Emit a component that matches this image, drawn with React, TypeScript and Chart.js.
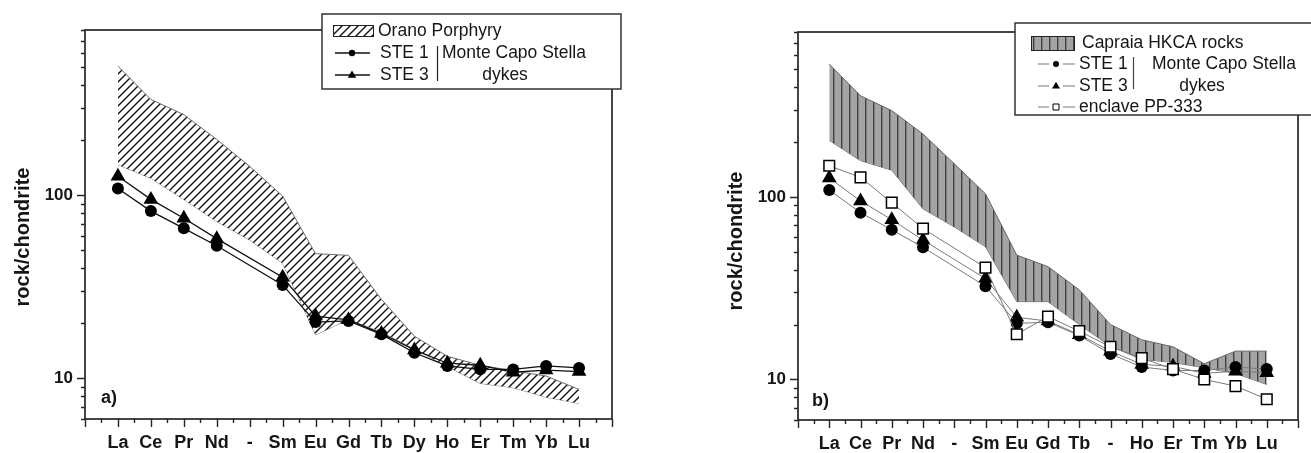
import React, { useEffect, useRef } from 'react';
import { Chart, registerables } from 'chart.js';

Chart.register(...registerables);

// ---------- data ----------
const labelsA = ['La', 'Ce', 'Pr', 'Nd', '-', 'Sm', 'Eu', 'Gd', 'Tb', 'Dy', 'Ho', 'Er', 'Tm', 'Yb', 'Lu'];
const labelsB = ['La', 'Ce', 'Pr', 'Nd', '-', 'Sm', 'Eu', 'Gd', 'Tb', '-', 'Ho', 'Er', 'Tm', 'Yb', 'Lu'];

const ste1 = [109, 82, 66, 53, null, 32.4, 20.3, 20.6, 17.4, 13.8, 11.7, 11.2, 11.2, 11.7, 11.4];
const ste3 = [127, 95, 75, 58, null, 35.7, 21.9, 20.9, 17.6, 14.3, 12.1, 11.8, 10.8, 11.1, 10.9];
const enclavePP333 = [148, 128, 93, 67, null, 41, 17.7, 22.1, 18.4, 15.1, 13.1, 11.4, 10.0, 9.2, 7.8];

const oranoUpper = [508, 334, 276, 202, 144, 99, 48, 47, 27, 17, 13.2, 11.8, 11.0, 10.3, 8.7];
const oranoLower = [147, 124, 95, 72, 57, 42.6, 17.3, 21, 18, 14.5, 11.6, 9.4, 8.9, 7.9, 7.3];

const capraiaUpper = [534, 358, 297, 221, 152, 104, 48, 41.5, 31, 20, 16.5, 15.1, 12.2, 14.3, 14.3];
const capraiaLower = [204, 158, 140, 86, 68.5, 53.4, 26.7, 26.7, 20, 15.2, 12.9, 12.4, 11.6, 10.8, 9.4];

const xTickValues = [-1, 0, 1, 2, 3, 4, 5, 6, 7, 8, 9, 10, 11, 12, 13, 14, 15];
const yTickValues = [6, 7, 8, 9, 10, 20, 30, 40, 50, 60, 70, 80, 90, 100, 200, 300, 400, 500, 600, 700, 800];
const yLabelTicks = [10, 100];

const yTitle = 'rock/chondrite';
const legendA = { band: 'Orano Porphyry', s1: 'STE 1', s3: 'STE 3', group1: 'Monte Capo Stella', group2: 'dykes' };
const legendB = { band: 'Capraia HKCA rocks', s1: 'STE 1', s3: 'STE 3', group1: 'Monte Capo Stella', group2: 'dykes', enc: 'enclave PP-333' };

// ---------- styles ----------
const FONT = '"Liberation Sans", Arial, Helvetica, sans-serif';
const AXIS = '#262626';
const TEXT = '#161616';

function diagPattern(ctx: CanvasRenderingContext2D) {
  const c = document.createElement('canvas');
  c.width = 8; c.height = 8;
  const g = c.getContext('2d')!;
  g.fillStyle = '#ffffff';
  g.fillRect(0, 0, 8, 8);
  g.strokeStyle = '#161616';
  g.lineWidth = 1.4;
  g.beginPath(); g.moveTo(-2, 10); g.lineTo(10, -2); g.stroke();
  g.beginPath(); g.moveTo(-2, 2); g.lineTo(2, -2); g.stroke();
  g.beginPath(); g.moveTo(6, 10); g.lineTo(10, 6); g.stroke();
  return ctx.createPattern(c, 'repeat')!;
}

function vertPattern(ctx: CanvasRenderingContext2D) {
  const c = document.createElement('canvas');
  c.width = 8; c.height = 8;
  const g = c.getContext('2d')!;
  g.fillStyle = '#a4a4a4';
  g.fillRect(0, 0, 8, 8);
  g.fillStyle = '#424242';
  g.fillRect(0, 0, 1.4, 8);
  return ctx.createPattern(c, 'repeat')!;
}

const pts = (arr: (number | null)[]) => arr.map((y, i) => ({ x: i, y }));

function drawMarker(ctx: CanvasRenderingContext2D, kind: string, x: number, y: number, r: number) {
  ctx.beginPath();
  if (kind === 'circle') {
    ctx.arc(x, y, r, 0, Math.PI * 2);
    ctx.fillStyle = '#000';
    ctx.fill();
  } else if (kind === 'triangle') {
    ctx.moveTo(x, y - r);
    ctx.lineTo(x + r * 0.95, y + r * 0.6);
    ctx.lineTo(x - r * 0.95, y + r * 0.6);
    ctx.closePath();
    ctx.fillStyle = '#000';
    ctx.fill();
  } else {
    ctx.rect(x - r, y - r, 2 * r, 2 * r);
    ctx.fillStyle = '#fff';
    ctx.fill();
    ctx.strokeStyle = '#000';
    ctx.lineWidth = 1;
    ctx.stroke();
  }
}

type Deco = {
  titleX: number;
  titleY: number;
  panelLabel: string;
  panelLabelX: number;
  panelLabelY: number;
  legend: (ctx: CanvasRenderingContext2D, pattern: CanvasPattern) => void;
};

function decoPlugin(deco: Deco, pattern: CanvasPattern) {
  return {
    id: 'deco',
    afterDraw(chart: any) {
      const ctx: CanvasRenderingContext2D = chart.ctx;
      const { left, right, top, bottom } = chart.chartArea;
      const xs = chart.scales.x;
      const ys = chart.scales.y;
      ctx.save();
      // frame
      ctx.strokeStyle = AXIS;
      ctx.lineWidth = 1.7;
      ctx.strokeRect(left, top, right - left, bottom - top);
      // y ticks
      ctx.lineWidth = 1.4;
      ctx.beginPath();
      yTickValues.forEach((v) => {
        const py = Math.round(ys.getPixelForValue(v)) + 0.5;
        const len = yLabelTicks.includes(v) ? 8 : 4;
        ctx.moveTo(left, py);
        ctx.lineTo(left - len, py);
      });
      ctx.stroke();
      // x ticks (major on elements, minor halfway)
      ctx.beginPath();
      for (let v = xs.min; v <= xs.max + 1e-9; v += 0.5) {
        const px = Math.round(xs.getPixelForValue(v)) + 0.5;
        const len = Number.isInteger(v) ? 8 : 4;
        ctx.moveTo(px, bottom);
        ctx.lineTo(px, bottom + len);
      }
      ctx.stroke();
      // y title
      ctx.save();
      ctx.translate(deco.titleX, deco.titleY);
      ctx.rotate(-Math.PI / 2);
      ctx.font = `bold 20px ${FONT}`;
      ctx.fillStyle = TEXT;
      ctx.textAlign = 'center';
      ctx.textBaseline = 'alphabetic';
      ctx.fillText(yTitle, 0, 0);
      ctx.restore();
      // panel label
      ctx.font = `bold 18px ${FONT}`;
      ctx.fillStyle = TEXT;
      ctx.textAlign = 'left';
      ctx.textBaseline = 'middle';
      ctx.fillText(deco.panelLabel, deco.panelLabelX, deco.panelLabelY);
      // legend
      deco.legend(ctx, pattern);
      ctx.restore();
    },
  };
}

function legendText(ctx: CanvasRenderingContext2D, s: string, x: number, y: number, align: CanvasTextAlign = 'left') {
  ctx.font = `17.5px ${FONT}`;
  ctx.fillStyle = TEXT;
  ctx.textAlign = align;
  ctx.textBaseline = 'middle';
  ctx.fillText(s, x, y);
}

function drawLegendA(ctx: CanvasRenderingContext2D, pattern: CanvasPattern) {
  ctx.fillStyle = '#fff';
  ctx.fillRect(322, 14, 299, 75);
  ctx.strokeStyle = '#333';
  ctx.lineWidth = 1.5;
  ctx.strokeRect(322, 14, 299, 75);
  // swatch
  ctx.fillStyle = pattern;
  ctx.fillRect(333, 25, 40, 11);
  ctx.strokeStyle = '#222';
  ctx.lineWidth = 1;
  ctx.strokeRect(333.5, 25.5, 40, 11);
  legendText(ctx, legendA.band, 378, 31);
  // STE 1
  ctx.strokeStyle = '#111';
  ctx.lineWidth = 1.3;
  ctx.beginPath(); ctx.moveTo(335, 53); ctx.lineTo(370, 53); ctx.stroke();
  drawMarker(ctx, 'circle', 352, 53, 3.2);
  legendText(ctx, legendA.s1, 380, 53);
  // STE 3
  ctx.strokeStyle = '#111';
  ctx.beginPath(); ctx.moveTo(335, 75); ctx.lineTo(370, 75); ctx.stroke();
  drawMarker(ctx, 'triangle', 352, 75, 4.5);
  legendText(ctx, legendA.s3, 380, 75);
  // bracket
  ctx.strokeStyle = '#222';
  ctx.lineWidth = 1.2;
  ctx.beginPath(); ctx.moveTo(437.5, 46); ctx.lineTo(437.5, 81); ctx.stroke();
  legendText(ctx, legendA.group1, 442, 53);
  legendText(ctx, legendA.group2, 505, 75, 'center');
}

function drawLegendB(ctx: CanvasRenderingContext2D, pattern: CanvasPattern) {
  const o = 713;
  ctx.fillStyle = '#fff';
  ctx.fillRect(1015 - o, 23, 320, 92);
  ctx.strokeStyle = '#333';
  ctx.lineWidth = 1.5;
  ctx.strokeRect(1015 - o, 23, 320, 92);
  // swatch
  ctx.fillStyle = pattern;
  ctx.fillRect(1031 - o, 36, 43, 14);
  ctx.strokeStyle = '#222';
  ctx.lineWidth = 1;
  ctx.strokeRect(1031 - o + 0.5, 36.5, 43, 14);
  legendText(ctx, legendB.band, 1082 - o, 43);
  const row = (y: number, kind: string, r: number, label: string) => {
    ctx.strokeStyle = '#777';
    ctx.lineWidth = 1;
    ctx.beginPath();
    ctx.moveTo(1038 - o, y); ctx.lineTo(1049 - o, y);
    ctx.moveTo(1063 - o, y); ctx.lineTo(1075 - o, y);
    ctx.stroke();
    drawMarker(ctx, kind, 1056 - o, y, r);
    legendText(ctx, label, 1079 - o, y);
  };
  row(64, 'circle', 3, legendB.s1);
  row(86, 'triangle', 4.2, legendB.s3);
  row(107, 'square', 3, legendB.enc);
  ctx.strokeStyle = '#444';
  ctx.lineWidth = 1.2;
  ctx.beginPath(); ctx.moveTo(1133.5 - o, 57); ctx.lineTo(1133.5 - o, 89); ctx.stroke();
  legendText(ctx, legendB.group1, 1152 - o, 64);
  legendText(ctx, legendB.group2, 1202 - o, 86, 'center');
}

function scales(xLabels: string[], yAxisWidth: number, xAxisHeight: number): any {
  return {
    x: {
      type: 'linear',
      min: -1,
      max: 15,
      afterBuildTicks: (s: any) => { s.ticks = xTickValues.map((v) => ({ value: v })); },
      afterFit: (s: any) => { s.height = xAxisHeight; },
      grid: { display: false, drawTicks: false },
      border: { display: false },
      ticks: {
        autoSkip: false,
        maxRotation: 0,
        minRotation: 0,
        padding: 13,
        color: TEXT,
        font: { family: FONT, size: 18, weight: 'bold' },
        callback: (v: number) => xLabels[v] ?? '',
      },
    },
    y: {
      type: 'logarithmic',
      min: 6,
      max: 800,
      afterBuildTicks: (s: any) => { s.ticks = yTickValues.map((v) => ({ value: v })); },
      afterFit: (s: any) => { s.width = yAxisWidth; },
      grid: { display: false, drawTicks: false },
      border: { display: false },
      ticks: {
        autoSkip: false,
        padding: 12,
        color: TEXT,
        font: { family: FONT, size: 17, weight: 'bold' },
        callback: (v: number) => (yLabelTicks.includes(v) ? String(v) : ''),
      },
    },
  };
}

function createPanelA(canvas: HTMLCanvasElement) {
  const ctx = canvas.getContext('2d')!;
  const pat = diagPattern(ctx);
  return new Chart(canvas, {
    type: 'line',
    data: {
      datasets: [
        { label: legendA.s1, data: pts(ste1), borderColor: '#111', borderWidth: 1.3, pointStyle: 'circle', pointRadius: 6, pointBackgroundColor: '#000', pointBorderColor: '#000', pointBorderWidth: 0, spanGaps: true, fill: false },
        { label: legendA.s3, data: pts(ste3), borderColor: '#111', borderWidth: 1.3, pointStyle: 'triangle', pointRadius: 8.5, pointBackgroundColor: '#000', pointBorderColor: '#000', pointBorderWidth: 0, spanGaps: true, fill: false },
        { label: 'Orano upper', data: pts(oranoUpper), borderColor: '#6e6e6e', borderWidth: 1, pointRadius: 0, fill: '+1', backgroundColor: pat },
        { label: 'Orano lower', data: pts(oranoLower), borderColor: '#6e6e6e', borderWidth: 1, pointRadius: 0, fill: false },
      ] as any,
    },
    options: {
      animation: false,
      responsive: false,
      devicePixelRatio: 1,
      layout: { padding: { top: 30, right: 650 - 612, left: 0, bottom: 0 } },
      elements: { line: { tension: 0 } },
      plugins: { legend: { display: false }, tooltip: { enabled: false } },
      scales: scales(labelsA, 85, 34),
    } as any,
    plugins: [decoPlugin({ titleX: 29, titleY: 237, panelLabel: 'a)', panelLabelX: 101, panelLabelY: 398, legend: drawLegendA }, pat) as any],
  });
}

function createPanelB(canvas: HTMLCanvasElement) {
  const ctx = canvas.getContext('2d')!;
  const pat = vertPattern(ctx);
  const gray = '#7a7a7a';
  return new Chart(canvas, {
    type: 'line',
    data: {
      datasets: [
        { label: legendB.enc, data: pts(enclavePP333), borderColor: gray, borderWidth: 1, pointStyle: 'rect', pointRadius: 7.5, pointBackgroundColor: '#fff', pointBorderColor: '#000', pointBorderWidth: 1.5, spanGaps: true, fill: false },
        { label: legendB.s1, data: pts(ste1), borderColor: gray, borderWidth: 1, pointStyle: 'circle', pointRadius: 6, pointBackgroundColor: '#000', pointBorderColor: '#000', pointBorderWidth: 0, spanGaps: true, fill: false },
        { label: legendB.s3, data: pts(ste3), borderColor: gray, borderWidth: 1, pointStyle: 'triangle', pointRadius: 8.5, pointBackgroundColor: '#000', pointBorderColor: '#000', pointBorderWidth: 0, spanGaps: true, fill: false },
        { label: 'Capraia upper', data: pts(capraiaUpper), borderColor: '#666', borderWidth: 1, pointRadius: 0, fill: '+1', backgroundColor: pat },
        { label: 'Capraia lower', data: pts(capraiaLower), borderColor: '#666', borderWidth: 1, pointRadius: 0, fill: false },
      ] as any,
    },
    options: {
      animation: false,
      responsive: false,
      devicePixelRatio: 1,
      layout: { padding: { top: 32, right: 3, left: 0, bottom: 0 } },
      elements: { line: { tension: 0 } },
      plugins: { legend: { display: false }, tooltip: { enabled: false } },
      scales: scales(labelsB, 85, 33),
    } as any,
    plugins: [decoPlugin({ titleX: 29, titleY: 241, panelLabel: 'b)', panelLabelX: 99, panelLabelY: 401, legend: drawLegendB }, pat) as any],
  });
}

export default function App() {
  const refA = useRef<HTMLCanvasElement>(null);
  const refB = useRef<HTMLCanvasElement>(null);
  useEffect(() => {
    const a = createPanelA(refA.current!);
    const b = createPanelB(refB.current!);
    return () => {
      a.destroy();
      b.destroy();
    };
  }, []);
  return (
    <div style={{ position: 'fixed', left: 0, top: 0, width: 1311, height: 453, background: '#fff', overflow: 'hidden' }}>
      <canvas ref={refA} width={650} height={453} style={{ position: 'absolute', left: 0, top: 0, width: 650, height: 453 }} />
      <canvas ref={refB} width={598} height={453} style={{ position: 'absolute', left: 713, top: 0, width: 598, height: 453 }} />
    </div>
  );
}
